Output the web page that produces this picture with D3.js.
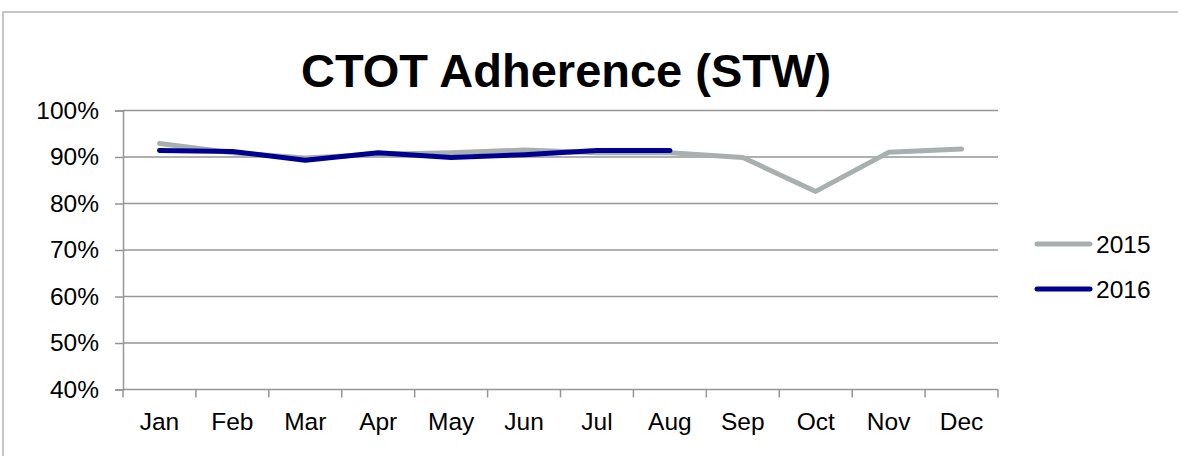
<!DOCTYPE html>
<html>
<head>
<meta charset="utf-8">
<script src="https://cdn.jsdelivr.net/npm/d3@7"></script>
<style>
  html, body { margin: 0; padding: 0; background: #fff; }
  svg { display: block; }
  text { font-family: "Liberation Sans", Arial, sans-serif; fill: #000; }
</style>
</head>
<body>
<svg id="chart" width="1178" height="456"></svg>
<script>
const title = "CTOT Adherence (STW)";
const months = ["Jan","Feb","Mar","Apr","May","Jun","Jul","Aug","Sep","Oct","Nov","Dec"];
const series2015 = [92.9, 90.9, 89.8, 90.6, 90.9, 91.5, 90.9, 90.9, 89.9, 82.6, 91.0, 91.7];
const series2016 = [91.4, 91.2, 89.3, 90.9, 89.9, 90.5, 91.4, 91.4, null, null, null, null];
const seriesNames = ["2015", "2016"];
const seriesColors = ["#A9AFAF", "#000090"];
const yTicks = [40, 50, 60, 70, 80, 90, 100];

const svg = d3.select("#chart");
const W = 1178, H = 456;
const m = { left: 123, right: 998, top: 110.5, bottom: 389.5 };
const FS = "24.5px";

// outer border
svg.append("rect")
  .attr("x", 3).attr("y", 12).attr("width", W + 10).attr("height", H + 10)
  .attr("fill", "none").attr("stroke", "#B3B3B3").attr("stroke-width", 1.5);

const x = d3.scaleBand().domain(months).range([m.left, m.right]).padding(0);
const y = d3.scaleLinear().domain([40, 100]).range([m.bottom, m.top]);

// gridlines
svg.append("g").selectAll("line").data(yTicks.slice(1)).join("line")
  .attr("x1", m.left).attr("x2", m.right)
  .attr("y1", d => y(d)).attr("y2", d => y(d))
  .attr("stroke", "#969696").attr("stroke-width", 1.5);

// y axis
const yAxis = svg.append("g").attr("transform", `translate(${m.left},0)`)
  .call(d3.axisLeft(y).tickValues(yTicks).tickFormat(d => d + "%").tickSize(8).tickPadding(16));
yAxis.select(".domain").attr("stroke", "#969696").attr("stroke-width", 1.5);
yAxis.selectAll(".tick line").attr("stroke", "#969696").attr("stroke-width", 1.5);
yAxis.selectAll(".tick text").style("font-size", FS).style("font-family", "Liberation Sans, Arial, sans-serif").attr("fill", "#000");

// x axis
const xAxis = svg.append("g").attr("transform", `translate(0,${m.bottom})`)
  .call(d3.axisBottom(x).tickSize(0).tickPadding(23));
xAxis.select(".domain").remove();
xAxis.selectAll(".tick text").style("font-size", FS).style("font-family", "Liberation Sans, Arial, sans-serif").attr("fill", "#000");
// x axis line + boundary ticks
const bounds = months.map(d => x(d)).concat([m.right]);
svg.append("line").attr("x1", m.left).attr("x2", m.right).attr("y1", m.bottom).attr("y2", m.bottom)
  .attr("stroke", "#969696").attr("stroke-width", 1.5);
svg.append("g").selectAll("line").data(bounds).join("line")
  .attr("x1", d => d).attr("x2", d => d).attr("y1", m.bottom).attr("y2", m.bottom + 8)
  .attr("stroke", "#969696").attr("stroke-width", 1.5);

// lines
const line = d3.line()
  .defined(d => d.v !== null)
  .x(d => x(d.m) + x.bandwidth() / 2)
  .y(d => y(d.v));
[series2015, series2016].forEach((s, i) => {
  svg.append("path")
    .datum(months.map((mm, j) => ({ m: mm, v: s[j] })))
    .attr("d", line)
    .attr("fill", "none")
    .attr("stroke", seriesColors[i])
    .attr("stroke-width", 5)
    .attr("stroke-linecap", "round")
    .attr("stroke-linejoin", "round");
});

// legend
const legY = [244, 289];
seriesNames.forEach((n, i) => {
  svg.append("line").attr("x1", 1037).attr("x2", 1090).attr("y1", legY[i]).attr("y2", legY[i])
    .attr("stroke", seriesColors[i]).attr("stroke-width", 5).attr("stroke-linecap", "round");
  svg.append("text").attr("x", 1096).attr("y", legY[i] + 9).text(n).style("font-size", FS);
});

// title
svg.append("text").attr("x", 566).attr("y", 87).attr("text-anchor", "middle")
  .style("font-size", "47px").style("font-weight", "bold").text(title);
</script>
</body>
</html>
